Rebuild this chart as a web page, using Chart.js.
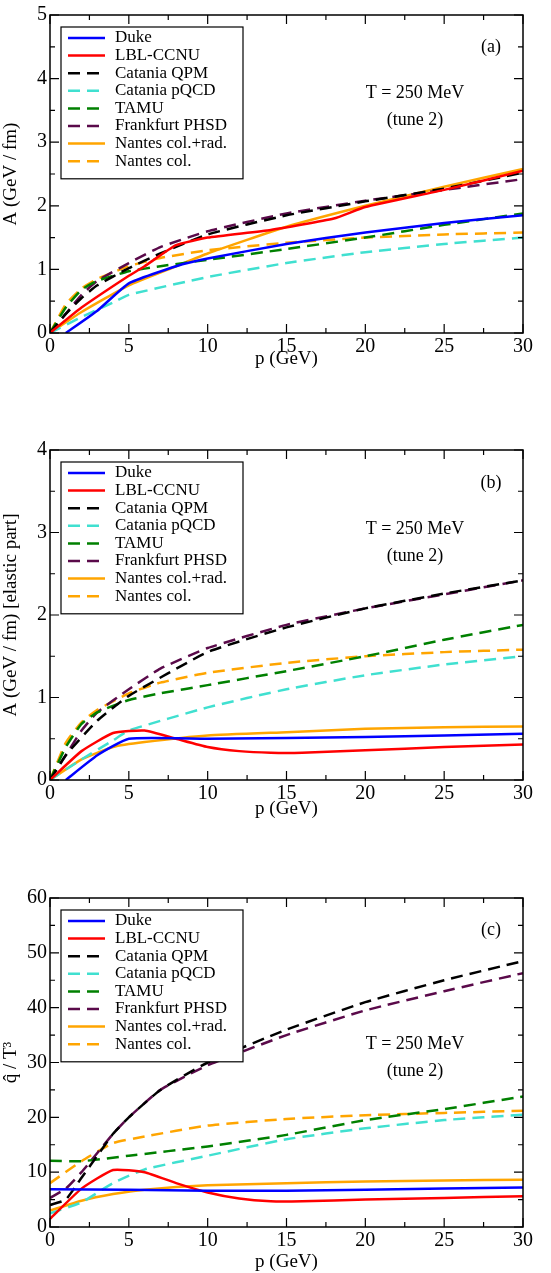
<!DOCTYPE html>
<html>
<head>
<meta charset="utf-8">
<script src="https://cdn.jsdelivr.net/npm/chart.js@4.4.1/dist/chart.umd.min.js"></script>
<style>
  body { margin: 0; background: #fff; width: 551px; height: 1273px; position: relative; overflow: hidden; }
  .wrap { position: absolute; left: 0; width: 551px; }
</style>
</head>
<body>
<div class="wrap" style="top:0;height:370px"><canvas id="chartA"></canvas></div>
<div class="wrap" style="top:420px;height:400px"><canvas id="chartB"></canvas></div>
<div class="wrap" style="top:850px;height:423px"><canvas id="chartC"></canvas></div>
<script>
// ---------------------------------------------------------------------------
// Data (p in GeV, value)
// ---------------------------------------------------------------------------
const seriesNames = ["Duke", "LBL-CCNU", "Catania QPM", "Catania pQCD", "TAMU", "Frankfurt PHSD", "Nantes col.+rad.", "Nantes col."];

// panel (a): A (GeV/fm)
const dukeA = [[1,0],[3,0.35],[5,0.78],[8,1.05],[10,1.17],[15,1.4],[20,1.58],[25,1.73],[30,1.85]];
const lblA = [[0,0],[2,0.4],[5,0.9],[6,1.05],[8,1.38],[10,1.5],[14,1.62],[18,1.8],[20,1.98],[25,2.25],[30,2.55]];
const qpmA = [[0,0],[1,0.3],[2,0.55],[3,0.75],[5,1.02],[7,1.25],[10,1.55],[15,1.85],[20,2.07],[25,2.27],[30,2.52]];
const pqcdA = [[0,0],[2,0.25],[4,0.48],[5,0.6],[10,0.88],[15,1.1],[20,1.27],[25,1.4],[30,1.5]];
const tamuA = [[0,0],[1,0.4],[2,0.68],[3,0.82],[5,0.97],[7,1.05],[10,1.15],[15,1.32],[20,1.5],[25,1.7],[30,1.88]];
const phsdA = [[0,0],[1,0.3],[2,0.6],[3,0.82],[5,1.1],[7,1.35],[10,1.6],[15,1.88],[20,2.08],[25,2.25],[30,2.42]];
const nantesRadA = [[0,0],[2,0.33],[5,0.75],[8,1.05],[10,1.25],[15,1.67],[20,2.0],[25,2.3],[30,2.58]];
const nantesColA = [[0,0],[1,0.45],[2,0.7],[3,0.85],[5,1.05],[7,1.18],[10,1.3],[15,1.42],[20,1.5],[25,1.55],[30,1.58]];

// panel (b): A (GeV/fm), elastic part
const dukeB = [[1,0],[3,0.3],[5,0.5],[10,0.5],[20,0.52],[30,0.56]];
const lblB = [[0,0],[2,0.35],[4,0.57],[6,0.6],[8,0.5],[10,0.4],[12,0.35],[14,0.33],[16,0.33],[20,0.36],[25,0.4],[30,0.43]];
const qpmB = [[0,0],[1,0.3],[3,0.72],[5,1.02],[10,1.55],[15,1.85],[20,2.08],[25,2.26],[30,2.42]];
const pqcdB = [[0,0],[2,0.25],[4,0.48],[5,0.6],[10,0.88],[15,1.1],[20,1.27],[25,1.4],[30,1.5]];
const tamuB = [[0,0],[1,0.4],[2,0.68],[3,0.82],[5,0.97],[7,1.05],[10,1.15],[15,1.32],[20,1.5],[25,1.7],[30,1.88]];
const phsdB = [[0,0],[1,0.3],[2,0.6],[3,0.82],[5,1.1],[7,1.35],[10,1.6],[15,1.88],[20,2.08],[25,2.25],[30,2.42]];
const nantesRadB = [[0,0],[2,0.25],[4,0.4],[6,0.46],[10,0.54],[15,0.58],[20,0.62],[25,0.64],[30,0.65]];
const nantesColB = [[0,0],[1,0.45],[2,0.7],[3,0.85],[5,1.05],[7,1.18],[10,1.3],[15,1.42],[20,1.5],[25,1.55],[30,1.58]];

// panel (c): qhat / T^3
const dukeC = [[0,6.9],[5,6.8],[10,6.6],[15,6.6],[20,6.8],[30,7.2]];
const lblC = [[0,1.5],[2,7],[4,10.4],[6,10],[8,8],[10,6.3],[12,5.2],[14,4.7],[16,4.7],[20,5],[25,5.3],[30,5.6]];
const qpmC = [[0,4],[1,5],[2,9],[3,13],[4,17],[5,20],[7,25],[10,30],[15,36],[20,41],[25,45],[30,48.5]];
const pqcdC = [[0,2.5],[2,4.5],[4,8],[6,10.5],[10,13],[15,16],[20,18],[25,19.5],[30,20.5]];
const tamuC = [[0,12.1],[2,12],[5,13],[10,14.7],[15,16.8],[20,19.5],[25,21.5],[30,23.8]];
const phsdC = [[0,5.3],[1,7],[2,10],[3,13.5],[4,17],[5,20],[7,25],[10,29.5],[15,35],[20,39.5],[25,43],[30,46.3]];
const nantesRadC = [[0,3],[2,4.8],[4,6],[6,6.8],[10,7.6],[15,8],[20,8.3],[25,8.5],[30,8.6]];
const nantesColC = [[0,8],[2,12],[4,15.3],[6,16.5],[10,18.5],[15,19.7],[20,20.4],[25,20.8],[30,21.2]];

// ---------------------------------------------------------------------------
// Styles
// ---------------------------------------------------------------------------
const colors = ["#0000ff", "#ff0000", "#000000", "#40e0d0", "#008000", "#5a0a4a", "#ffa500", "#ffa500"];
const dashed = [false, false, true, true, true, true, false, true];
const DASH = [12, 7];
const FONT = "'Liberation Serif', 'DejaVu Serif', serif";

function makeDatasets(list) {
    return list.map((pts, i) => ({
        label: seriesNames[i],
        data: pts.map(p => ({ x: p[0], y: p[1] })),
        borderColor: colors[i],
        borderWidth: 2.5,
        borderDash: dashed[i] ? DASH : [],
        pointRadius: 0,
        tension: 0.15,
        fill: false
    }));
}

// frame, inner ticks, legend box, text labels
const decorPlugin = {
    id: "decor",
    afterDraw(chart, args, opts) {
        const ctx = chart.ctx;
        const a = chart.chartArea;
        const xs = chart.scales.x, ys = chart.scales.y;
        ctx.save();
        ctx.strokeStyle = "#000";
        ctx.lineWidth = 1.5;
        ctx.setLineDash([]);
        ctx.strokeRect(a.left, a.top, a.right - a.left, a.bottom - a.top);

        // ticks on all four sides
        ctx.lineWidth = 1.2;
        const tick = (v, major, axis) => {
            const len = major ? 9 : 5;
            ctx.beginPath();
            if (axis === "x") {
                const px = xs.getPixelForValue(v);
                ctx.moveTo(px, a.bottom); ctx.lineTo(px, a.bottom - len);
                ctx.moveTo(px, a.top); ctx.lineTo(px, a.top + len);
            } else {
                const py = ys.getPixelForValue(v);
                ctx.moveTo(a.left, py); ctx.lineTo(a.left + len, py);
                ctx.moveTo(a.right, py); ctx.lineTo(a.right - len, py);
            }
            ctx.stroke();
        };
        for (let v = 0; v <= 30; v += 2.5) tick(v, v % 5 === 0, "x");
        for (let v = 0; v <= ys.max + 1e-9; v += opts.minor) tick(v, Math.abs(v / opts.major - Math.round(v / opts.major)) < 1e-6, "y");

        // legend
        const lx = a.left + 11, ly = a.top + 12, lw = 182, rowH = 17.6;
        const lh = rowH * seriesNames.length + 11;
        ctx.fillStyle = "#fff";
        ctx.fillRect(lx, ly, lw, lh);
        ctx.lineWidth = 1.2;
        ctx.strokeRect(lx, ly, lw, lh);
        ctx.font = "17px " + FONT;
        ctx.textBaseline = "middle";
        ctx.textAlign = "left";
        seriesNames.forEach((name, i) => {
            const y = ly + 11 + i * rowH;
            ctx.strokeStyle = colors[i];
            ctx.lineWidth = 2.5;
            ctx.setLineDash(dashed[i] ? DASH : []);
            ctx.beginPath(); ctx.moveTo(lx + 7, y); ctx.lineTo(lx + 44, y); ctx.stroke();
            ctx.fillStyle = "#000";
            ctx.fillText(name, lx + 54, y);
        });
        ctx.setLineDash([]);

        // annotations
        ctx.fillStyle = "#000";
        ctx.font = "18px " + FONT;
        ctx.textAlign = "center";
        ctx.fillText(opts.tag, a.left + 441, a.top + opts.tagY);
        ctx.fillText("T = 250 MeV", a.left + 365, a.top + opts.tY);
        ctx.fillText("(tune 2)", a.left + 365, a.top + opts.tY + 27);
        ctx.restore();
    }
};

function buildPanel(id, list, cfg) {
    return new Chart(document.getElementById(id), {
        type: "line",
        data: { datasets: makeDatasets(list) },
        plugins: [decorPlugin],
        options: {
            responsive: true,
            maintainAspectRatio: false,
            animation: false,
            layout: { padding: { top: cfg.padTop, right: 28, left: 0, bottom: 0 } },
            scales: {
                x: {
                    type: "linear", min: 0, max: 30,
                    grid: { display: false, drawTicks: false },
                    border: { display: false },
                    ticks: { stepSize: 5, color: "#000", padding: 2, font: { family: FONT, size: 20 } },
                    title: { display: true, text: "p (GeV)", color: "#000", padding: 0, font: { family: FONT, size: 19 } },
                    afterFit: s => { s.height = cfg.xHeight; }
                },
                y: {
                    type: "linear", min: 0, max: cfg.yMax,
                    grid: { display: false, drawTicks: false },
                    border: { display: false },
                    ticks: { stepSize: cfg.major, color: "#000", padding: 3, font: { family: FONT, size: 20 } },
                    title: { display: true, text: cfg.yTitle, color: "#000", padding: 0, font: { family: FONT, size: 19 } },
                    afterFit: s => { s.width = 50; }
                }
            },
            plugins: {
                legend: { display: false },
                tooltip: { enabled: false },
                decor: { tag: cfg.tag, tagY: cfg.tagY, tY: cfg.tY, major: cfg.major, minor: cfg.minor }
            }
        }
    });
}

buildPanel("chartA", [dukeA, lblA, qpmA, pqcdA, tamuA, phsdA, nantesRadA, nantesColA],
    { padTop: 3, xHeight: 37, yMax: 5, major: 1, minor: 0.5, yTitle: "A (GeV / fm)", tag: "(a)", tagY: 32, tY: 78 });
buildPanel("chartB", [dukeB, lblB, qpmB, pqcdB, tamuB, phsdB, nantesRadB, nantesColB],
    { padTop: 30, xHeight: 40, yMax: 4, major: 1, minor: 0.5, yTitle: "A (GeV / fm) [elastic part]", tag: "(b)", tagY: 33, tY: 79 });
buildPanel("chartC", [dukeC, lblC, qpmC, pqcdC, tamuC, phsdC, nantesRadC, nantesColC],
    { padTop: 48, xHeight: 46, yMax: 60, major: 10, minor: 5, yTitle: "q\u0302 / T\u00b3", tag: "(c)", tagY: 32, tY: 146 });
</script>
</body>
</html>
